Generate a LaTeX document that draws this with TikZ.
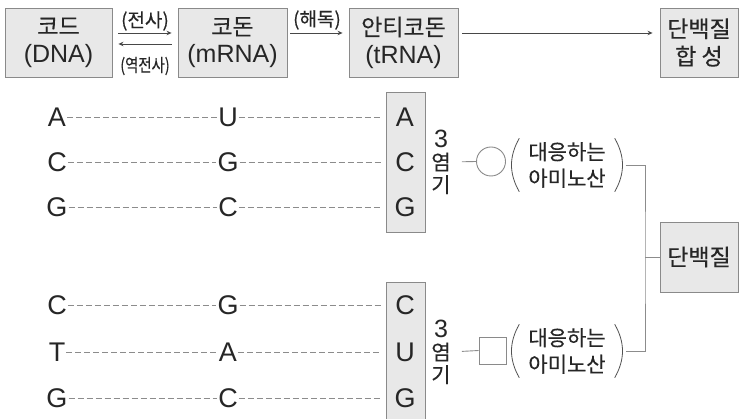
\documentclass[tikz,border=0pt]{standalone}
\usepackage{fontspec}
\setmainfont{Liberation Sans}
\newfontfamily\cjk[FakeBold=0.25]{Noto Sans CJK KR}
\newfontfamily\cjknarrow[FakeStretch=0.8,FakeBold=0.25]{Noto Sans CJK KR}
\usetikzlibrary{arrows.meta}
\definecolor{boxfill}{HTML}{E8E8E8}
\definecolor{boxline}{HTML}{8A8A8A}
\definecolor{ink}{HTML}{262626}
\definecolor{wire}{HTML}{8C8C8C}
\begin{document}
\begin{tikzpicture}[x=1pt,y=-1pt,
  gbox/.style={draw=boxline, fill=boxfill, line width=0.9pt, inner sep=0pt, align=center, text=ink,
    font=\fontsize{25}{27.5}\selectfont},
  hbox/.style={gbox, font=\cjk\fontsize{23}{27.5}\selectfont},
  arr/.style={draw=ink!85, line width=0.8pt, -{Stealth[length=5pt,width=4.5pt]}},
  lbl/.style={text=ink, inner sep=0pt, font=\cjk\fontsize{19}{20}\selectfont},
  base/.style={text=ink, inner xsep=1pt, inner ysep=0pt, font=\fontsize{27}{29}\selectfont},
  pairline/.style={draw=wire, line width=0.7pt, dash pattern=on 6pt off 3pt},
  wireline/.style={draw=wire, line width=0.9pt},
  yeom/.style={text=ink, inner sep=0pt, align=center, font=\cjk\fontsize{21}{22.5}\selectfont},
  amino/.style={text=ink, inner sep=0pt, align=center, minimum width=95pt, minimum height=53pt,
    font=\cjk\fontsize{21}{26.5}\selectfont},
  shapebox/.style={draw=boxline, line width=0.9pt, inner sep=0pt, fill=white}
]
\useasboundingbox (0,0) rectangle (740,419);
\clip (0,0) rectangle (740,419);

% top row
\node[gbox, minimum width=107pt, minimum height=69pt] (dna) at (58.5,42.5) {{\cjk\fontsize{23}{27.5}\selectfont 코드}\\(DNA)};
\node[gbox, minimum width=109pt, minimum height=69pt] (mrna) at (232.5,42.5) {{\cjk\fontsize{23}{27.5}\selectfont 코돈}\\(mRNA)};
\node[gbox, minimum width=109pt, minimum height=69pt] (trna) at (403.5,42.5) {{\cjk\fontsize{23}{27.5}\selectfont 안티코돈}\\(tRNA)};
\node[hbox, minimum width=78pt, minimum height=69pt] (synth) at (699,42.5) {단백질\\합 성};

\draw[arr, shorten <=6pt, shorten >=6pt] ([yshift=9.5pt]dna.east) -- ([yshift=9.5pt]mrna.west);
\draw[arr, shorten <=6pt, shorten >=6pt] ([yshift=-1.5pt]mrna.west) -- ([yshift=-1.5pt]dna.east);
\draw[arr, shorten <=3pt, shorten >=6pt] ([yshift=9.5pt]mrna.east) -- ([yshift=9.5pt]trna.west);
\draw[arr, shorten <=4pt, shorten >=7pt] ([yshift=9.5pt]trna.east) -- ([yshift=9.5pt]synth.west);

\node[lbl] (l1) at (145,21) {(전사)};
\node[lbl, font=\cjknarrow\fontsize{18}{20}\selectfont] (l2) at (145,66) {(역전사)};
\node[lbl] (l3) at (317,20) {(해독)};

% tRNA boxes
\node[gbox, minimum width=39pt, minimum height=140pt] (tb1) at (405.5,162) {};
\node[gbox, minimum width=39pt, minimum height=150pt] (tb2) at (405.5,357) {};

% base letters, group 1
\node[base] (d1) at (57,117) {A};
\node[base] (m1) at (228,117) {U};
\node[base] (t1) at (405,117) {A};
\node[base] (d2) at (57,162) {C};
\node[base] (m2) at (228,162) {G};
\node[base] (t2) at (405,162) {C};
\node[base] (d3) at (57,207) {G};
\node[base] (m3) at (228,207) {C};
\node[base] (t3) at (405,207) {G};
% group 2
\node[base] (d4) at (57,305) {C};
\node[base] (m4) at (228,305) {G};
\node[base] (t4) at (405,305) {C};
\node[base] (d5) at (57,352) {T};
\node[base] (m5) at (228,352) {A};
\node[base] (t5) at (405,352) {U};
\node[base] (d6) at (57,398) {G};
\node[base] (m6) at (228,398) {C};
\node[base] (t6) at (405,398) {G};

\foreach \i in {1,...,3}{
  \draw[pairline] (d\i) -- (m\i);
  \draw[pairline, shorten >=5pt] (m\i) -- (m\i -| tb1.west);
}
\foreach \i in {4,...,6}{
  \draw[pairline] (d\i) -- (m\i);
  \draw[pairline, shorten >=5pt] (m\i) -- (m\i -| tb2.west);
}

% 3 bases -> amino acid
\node[yeom] (k1) at (441,162) {{\rmfamily\fontsize{25}{22.5}\selectfont 3}\\염\\기};
\node[yeom] (k2) at (441,352) {{\rmfamily\fontsize{25}{22.5}\selectfont 3}\\염\\기};
\node[shapebox, circle, minimum size=29pt] (c1) at (491,161.5) {};
\node[shapebox, minimum size=27pt] (s2) at (492.5,350.5) {};
\draw[wireline, shorten <=11pt] (k1.east) -- (c1.west);
\draw[wireline, shorten <=11pt] (k2.east) -- (s2.west);

\node[amino] (p1) at (567,165) {대응하는\\아미노산};
\node[amino] (p2) at (567,351) {대응하는\\아미노산};
\foreach \p in {p1,p2}{
  \draw[draw=ink!80, line width=0.8pt] (\p.north west) to[bend right=30] (\p.south west);
  \draw[draw=ink!80, line width=0.8pt] (\p.north east) to[bend left=30] (\p.south east);
}

\node[hbox, minimum width=78pt, minimum height=70pt] (prot) at (699,257) {단백질};
\coordinate (bx) at (645,257);
\draw[wireline] ([xshift=11pt]p1.east) -| (bx) |- ([xshift=11pt]p2.east);
\draw[wireline] (bx) -- (prot.west);
\end{tikzpicture}
\end{document}
